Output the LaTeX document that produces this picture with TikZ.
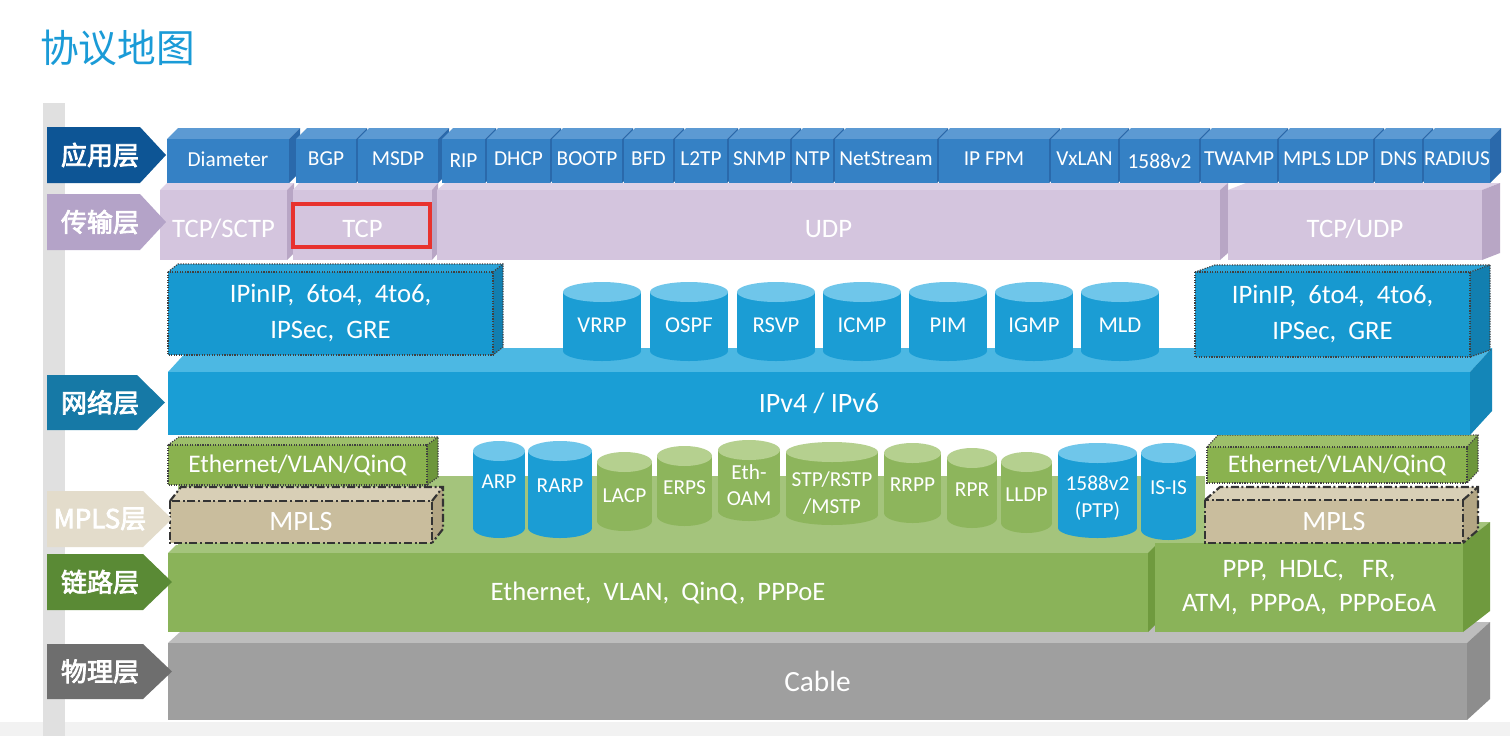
\documentclass[tikz,border=0pt]{standalone}
\usepackage{fontspec}
\setmainfont{Carlito}
\newfontfamily\cjk{Noto Sans CJK SC}
\newfontfamily\cjkb[FakeBold=3]{Noto Sans CJK SC}
\definecolor{titleblue}{HTML}{1A9BD7}
\definecolor{lapp}{HTML}{0D5595}
\definecolor{ltrans}{HTML}{B4A3C8}
\definecolor{lnet}{HTML}{1679A6}
\definecolor{lmpls}{HTML}{E3DCCB}
\definecolor{llink}{HTML}{5A8A35}
\definecolor{lphys}{HTML}{6E6E6E}
\definecolor{appF}{HTML}{3581C5}\definecolor{appT}{HTML}{5C9AD3}\definecolor{appS}{HTML}{2A69AB}
\definecolor{purF}{HTML}{D4C5DE}\definecolor{purT}{HTML}{DDD1E6}\definecolor{purS}{HTML}{B8A6C5}
\definecolor{netF}{HTML}{1A9ED5}\definecolor{netT}{HTML}{4CB8E3}\definecolor{netS}{HTML}{1486B8}
\definecolor{tunF}{HTML}{1799D0}\definecolor{tunT}{HTML}{2AA4D8}\definecolor{tunS}{HTML}{127FB0}
\definecolor{lnkF}{HTML}{8AB359}\definecolor{lnkT}{HTML}{A4C47C}\definecolor{lnkS}{HTML}{6F9A3E}
\definecolor{ethF}{HTML}{8AB24F}\definecolor{ethT}{HTML}{9DBF6A}\definecolor{ethS}{HTML}{6D963B}
\definecolor{mplF}{HTML}{C9BD9D}\definecolor{mplT}{HTML}{D8CFB6}\definecolor{mplS}{HTML}{B3A684}
\definecolor{cabF}{HTML}{9F9F9F}\definecolor{cabT}{HTML}{BDBDBD}\definecolor{cabS}{HTML}{8D8D8D}
\definecolor{cylBb}{HTML}{1B9DD4}\definecolor{cylBt}{HTML}{6FC6EA}
\definecolor{cylGb}{HTML}{8DB55C}\definecolor{cylGt}{HTML}{B5D08F}
\definecolor{redbox}{HTML}{E8322E}

\tikzset{
  txt/.style={text=white, inner sep=0pt, align=center},
  apptxt/.style={txt, yshift=1.5pt, font=\fontsize{16}{17}\selectfont},
  purtxt/.style={txt, yshift=-3pt, font=\fontsize{20}{22}\selectfont},
  tuntxt/.style={txt, font=\fontsize{20}{27}\selectfont},
  nettxt/.style={txt, font=\fontsize{21}{24}\selectfont},
  cyltxt/.style={txt, font=\fontsize{17}{19}\selectfont},
  lcyltxt/.style={txt, font=\fontsize{16}{20}\selectfont},
  ethtxt/.style={txt, font=\fontsize{19}{22}\selectfont},
  mpltxt/.style={txt, font=\fontsize{21}{24}\selectfont},
  lnktxt/.style={txt, font=\fontsize{20}{25}\selectfont},
  labeltxt/.style={txt, font=\cjkb\fontsize{19.5}{22}\selectfont},
  dotedge/.style={draw=black!75, line width=0.9pt, densely dotted},
  dashdotedge/.style={draw=black!80, line width=1.6pt, dash pattern=on 6pt off 2pt on 1.5pt off 2pt},
}

% 3D box: name, x1, y1, x2, y2, dx, dy(up), colour prefix, text style, then {text}
\newcommand\boxthree[9]{%
  \fill[#8T] (#2,#3) -- (#2+#6,#3-#7) -- (#4+#6,#3-#7) -- (#4,#3) -- cycle;
  \fill[#8S] (#4,#3) -- (#4+#6,#3-#7) -- (#4+#6,#5-#7) -- (#4,#5) -- cycle;
  \fill[#8F] (#2,#3) rectangle (#4,#5);
  \node[#9] (#1) at ({(#2+#4)/2},{(#3+#5)/2})}
% outline of a 3D box
\newcommand\boxedge[7]{%
  \draw[#7] (#1,#2) rectangle (#3,#4);
  \draw[#7] (#1,#2) -- (#1+#5,#2-#6) -- (#3+#5,#2-#6) -- (#3+#5,#4-#6) -- (#3,#4);
  \draw[#7] (#3,#2) -- (#3+#5,#2-#6);}
% cylinder: name, x1, x2, ytop, ybot, colour prefix, text y, text style, text
\newcommand\cyl[9]{%
  \pgfmathsetmacro\cylcx{(#2+#3)/2}%
  \pgfmathsetmacro\cylrx{(#3-#2)/2*0.75}%
  \fill[#6b] (#2,#4+10) rectangle (#3,#5-10);
  \fill[#6b] (\cylcx,#5-10) ellipse [x radius=\cylrx pt, y radius=7.5pt];
  \fill[#6t] (\cylcx,#4+10) ellipse [x radius=\cylrx pt, y radius=7.5pt];
  \node[#8] (#1) at (\cylcx,#7) {#9};}
% layer label arrow: name, y1, y2, xr, xtip, colour, text
\newcommand\layerlabel[7]{%
  \fill[#6] (47,#2) -- (#4,#2) -- (#5,{(#2+#3)/2}) -- (#4,#3) -- (47,#3) -- cycle;
  \node[labeltxt] (#1) at (100,{(#2+#3)/2}) {#7};}

\begin{document}
\begin{tikzpicture}[x=0.75pt,y=-0.75pt]
\useasboundingbox (0,0) rectangle (1510,736);
\fill[white] (0,0) rectangle (1510,736);
\fill[black!5] (0,722) rectangle (1510,736);
\fill[black!12] (43,103) rectangle (65,736);
\node[anchor=west, inner sep=0pt, text=titleblue, font=\cjk\fontsize{29}{32}\selectfont] (title) at (40,48) {协议地图};

% ---------- physical layer ----------
\boxthree{cable}{168}{643}{1467}{720}{23}{21}{cab}{lnktxt, font=\fontsize{22}{24}\selectfont} {Cable};

% ---------- link layer ----------
\fill[lnkT] (178,476) rectangle (1205,553);
\boxthree{ethblk}{168}{553}{1148}{632}{8}{8}{lnk}{lnktxt}{Ethernet,\ \ VLAN,\ \ QinQ,\ \ PPPoE};
\boxthree{pppblk}{1155}{543}{1463}{632}{27}{21}{lnk}{lnktxt}{PPP,\ \ HDLC,\ \ \ FR,\\ATM,\ \ PPPoA,\ \ PPPoEoA};

\boxthree{ethL}{168}{445}{427}{485}{11}{8}{eth}{ethtxt}{Ethernet/VLAN/QinQ};
\boxedge{168}{445}{427}{485}{11}{8}{dotedge}
\boxthree{mplsL}{170}{501}{432}{543}{11}{14}{mpl}{mpltxt}{MPLS};
\boxedge{170}{501}{432}{543}{11}{14}{dashdotedge}
\boxthree{ethR}{1207}{447}{1467}{483}{11}{12}{eth}{ethtxt}{Ethernet/VLAN/QinQ};
\boxedge{1207}{447}{1467}{483}{11}{12}{dotedge}
\boxthree{mplsR}{1205}{500}{1463}{543}{15}{13}{mpl}{mpltxt}{MPLS};
\boxedge{1205}{500}{1463}{543}{15}{13}{dashdotedge}

\cyl{arp}{473}{525}{441}{538}{cylB}{482}{lcyltxt}{ARP}
\cyl{rarp}{528}{592}{441}{538}{cylB}{486}{lcyltxt}{RARP}
\cyl{lacp}{597}{652}{452}{531}{cylG}{496}{lcyltxt}{LACP}
\cyl{erps}{657}{712}{446}{526}{cylG}{488}{lcyltxt}{ERPS}
\cyl{ethoam}{718}{780}{440}{521}{cylG}{485}{lcyltxt}{Eth-\\OAM}
\cyl{stp}{786}{878}{442}{525}{cylG}{493}{lcyltxt}{STP/RSTP\\/MSTP}
\cyl{rrpp}{884}{941}{443}{523}{cylG}{485}{lcyltxt}{RRPP}
\cyl{rpr}{947}{997}{448}{528}{cylG}{490}{lcyltxt}{RPR}
\cyl{lldp}{1001}{1052}{452}{533}{cylG}{495}{lcyltxt}{LLDP}
\cyl{ptp}{1058}{1137}{443}{538}{cylB}{498}{lcyltxt}{1588v2\\(PTP)}
\cyl{isis}{1141}{1196}{443}{540}{cylB}{488}{lcyltxt}{IS-IS}

% ---------- network layer ----------
\boxthree{ipbar}{168}{372}{1470}{435}{22}{24}{net}{nettxt}{IPv4 / IPv6};
\boxthree{tunL}{168}{272}{493}{355}{10}{8}{tun}{tuntxt}{IPinIP,\ \ 6to4,\ \ 4to6,\\IPSec,\ \ GRE};
\boxedge{168}{272}{493}{355}{10}{8}{dotedge}
\boxthree{tunR}{1195}{272}{1470}{357}{20}{7}{tun}{tuntxt}{IPinIP,\ \ 6to4,\ \ 4to6,\\IPSec,\ \ GRE};
\boxedge{1195}{272}{1470}{357}{20}{7}{dotedge}

\cyl{vrrp}{563}{641}{282}{361}{cylB}{325}{cyltxt}{VRRP}
\cyl{ospf}{650}{728}{282}{361}{cylB}{325}{cyltxt}{OSPF}
\cyl{rsvp}{737}{815}{282}{361}{cylB}{325}{cyltxt}{RSVP}
\cyl{icmp}{823}{901}{282}{361}{cylB}{325}{cyltxt}{ICMP}
\cyl{pim}{909}{987}{282}{361}{cylB}{325}{cyltxt}{PIM}
\cyl{igmp}{995}{1073}{282}{361}{cylB}{325}{cyltxt}{IGMP}
\cyl{mld}{1081}{1159}{282}{361}{cylB}{325}{cyltxt}{MLD}

% ---------- transport layer ----------
\boxthree{tcpsctp}{160}{190}{287}{260}{7}{7}{pur}{purtxt}{TCP/SCTP};
\boxthree{tcp}{293}{190}{432}{260}{6}{7}{pur}{purtxt}{TCP};
\boxthree{udp}{437}{190}{1220}{260}{8}{7}{pur}{purtxt}{UDP};
\boxthree{tcpudp}{1228}{190}{1482}{260}{18}{7}{pur}{purtxt}{TCP/UDP};
\draw[redbox, line width=2.3pt] (293,204) rectangle (430,247);

% ---------- application layer ----------
\boxthree{diameter}{167}{139}{289}{183}{11}{11}{app}{apptxt}{Diameter};
\boxthree{bgp}{296}{139}{356}{183}{11}{11}{app}{apptxt}{BGP};
\boxthree{msdp}{358}{139}{438}{183}{11}{11}{app}{apptxt}{MSDP};
\boxthree{rip}{442}{139}{485}{183}{11}{11}{app}{apptxt, yshift=-1.5pt}{RIP};
\boxthree{dhcp}{487}{139}{550}{183}{11}{11}{app}{apptxt}{DHCP};
\boxthree{bootp}{552}{139}{622}{183}{11}{11}{app}{apptxt}{BOOTP};
\boxthree{bfd}{624}{139}{673}{183}{11}{11}{app}{apptxt}{BFD};
\boxthree{ltwotp}{675}{139}{727}{183}{11}{11}{app}{apptxt}{L2TP};
\boxthree{snmp}{729}{139}{790}{183}{11}{11}{app}{apptxt}{SNMP};
\boxthree{ntp}{792}{139}{833}{183}{11}{11}{app}{apptxt}{NTP};
\boxthree{netstream}{835}{139}{937}{183}{11}{11}{app}{apptxt}{NetStream};
\boxthree{ipfpm}{939}{139}{1049}{183}{11}{11}{app}{apptxt}{IP FPM};
\boxthree{vxlan}{1051}{139}{1118}{183}{11}{11}{app}{apptxt}{VxLAN};
\boxthree{ieee}{1120}{139}{1199}{183}{11}{11}{app}{apptxt, yshift=-1.5pt}{1588v2};
\boxthree{twamp}{1201}{139}{1277}{183}{11}{11}{app}{apptxt}{TWAMP};
\boxthree{mplsldp}{1279}{139}{1373}{183}{11}{11}{app}{apptxt}{MPLS LDP};
\boxthree{dns}{1375}{139}{1422}{183}{11}{11}{app}{apptxt}{DNS};
\boxthree{radius}{1424}{139}{1490}{183}{11}{11}{app}{apptxt}{RADIUS};

% ---------- layer labels ----------
\layerlabel{lbapp}{127}{183}{140}{166}{lapp}{应用层}
\layerlabel{lbtrans}{194}{250}{140}{166}{ltrans}{传输层}
\layerlabel{lbnet}{375}{430}{137}{165}{lnet}{网络层}
\layerlabel{lbmpls}{491}{547}{143}{172}{lmpls}{MPLS层}
\layerlabel{lblink}{554}{610}{143}{172}{llink}{链路层}
\layerlabel{lbphys}{644}{699}{143}{172}{lphys}{物理层}
\end{tikzpicture}
\end{document}
